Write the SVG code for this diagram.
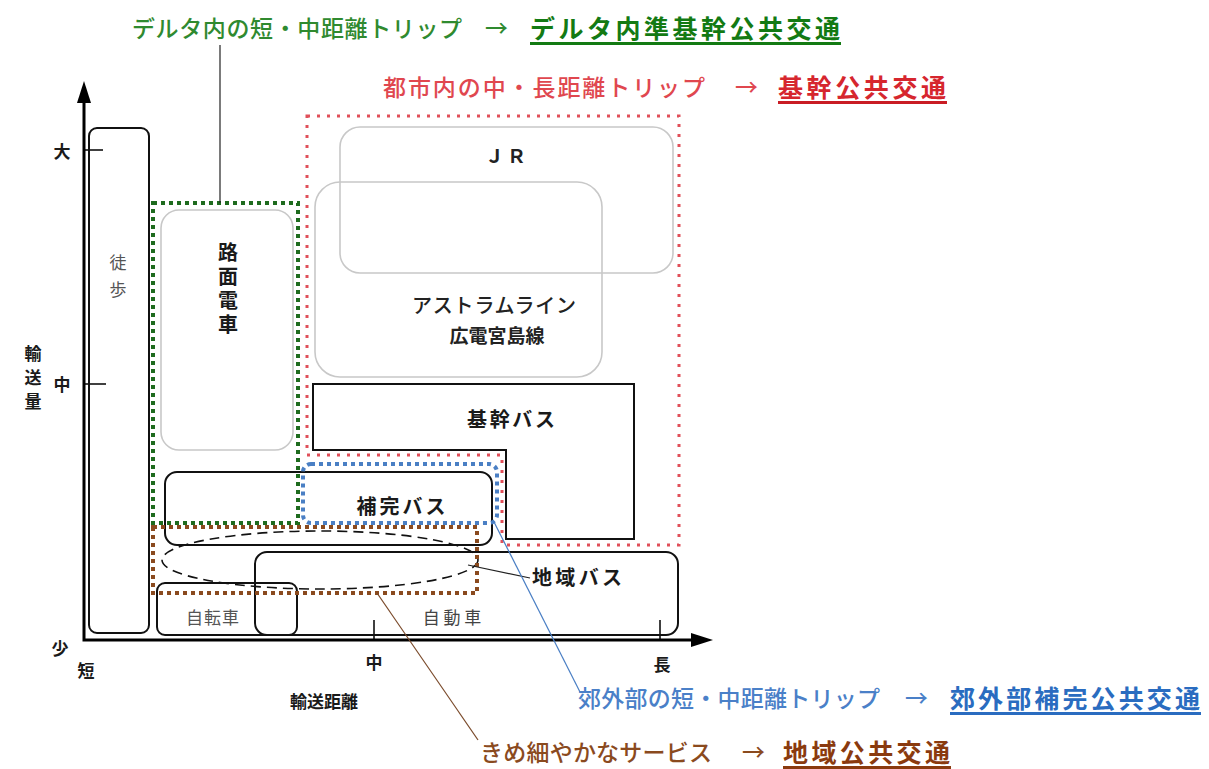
<svg xmlns="http://www.w3.org/2000/svg" width="1209" height="769" viewBox="0 0 1209 769">
<defs>
<style>
text{font-family:"Noto Sans CJK JP","Noto Sans",sans-serif;}
.lbl{font-size:20px;font-weight:700;fill:#1a1a1a;}
.ax{font-size:17px;font-weight:700;fill:#1a1a1a;}
.gbox{fill:none;stroke:#c8c8c8;stroke-width:1.6;}
.bbox{fill:none;stroke:#111;stroke-width:2;}
.axis{stroke:#000;stroke-width:3;fill:none;}
.tick{stroke:#000;stroke-width:1.5;}
.lead{stroke-width:1.2;fill:none;}
.dg{fill:none;stroke:#1e6b1e;stroke-width:4;stroke-dasharray:4 4;}
.dr{fill:none;stroke:#e0505a;stroke-width:3;stroke-dasharray:3 7;}
.db{fill:none;stroke:#4a7fc4;stroke-width:4;stroke-dasharray:4 4;}
.dn{fill:none;stroke:#8a4a1e;stroke-width:4;stroke-dasharray:4 4;}
.reg{font-size:23px;font-weight:500;}
.bld{font-size:25px;font-weight:700;}
.vt{writing-mode:vertical-rl;}
</style>
</defs>
<rect width="1209" height="769" fill="#fff"/>

<!-- axes -->
<g id="axes">
<polyline class="axis" points="84,96 84,640 698,640"/>
<polygon points="84,81 77,103 91,103" fill="#000"/>
<polygon points="713,640 691,633 691,647" fill="#000"/>
<line class="tick" x1="84" y1="150" x2="103" y2="150"/>
<line class="tick" x1="84" y1="384" x2="106" y2="384"/>
<line class="tick" x1="374" y1="620" x2="374" y2="640"/>
<line class="tick" x1="660" y1="620" x2="660" y2="640"/>
<text class="ax" x="62" y="158" text-anchor="middle">大</text>
<text class="ax" x="62" y="391" text-anchor="middle">中</text>
<text class="ax" x="60" y="655" text-anchor="middle">少</text>
<text class="ax" x="86" y="677" text-anchor="middle">短</text>
<text class="ax" x="374" y="669" text-anchor="middle">中</text>
<text class="ax" x="662" y="671" text-anchor="middle">長</text>
<text class="ax vt" x="33" y="345" font-size="20" letter-spacing="7">輸送量</text>
<text class="ax" x="324" y="708" text-anchor="middle" font-size="20">輸送距離</text>
</g>

<!-- nodes -->
<g id="toho">
<rect class="bbox" x="89" y="128" width="60" height="505" rx="8"/>
<text class="vt" x="118" y="254" font-size="17" fill="#555" letter-spacing="10">徒歩</text>
</g>
<g id="romen">
<rect class="gbox" x="161" y="210" width="132" height="240" rx="18"/>
<text class="lbl vt" x="228" y="242" letter-spacing="4">路面電車</text>
</g>
<g id="jr">
<rect class="gbox" x="340" y="127" width="333" height="146" rx="20"/>
<text x="507" y="163" text-anchor="middle" font-size="19" font-weight="700" fill="#222" letter-spacing="3">ＪＲ</text>
</g>
<g id="astram">
<rect class="gbox" x="315" y="182" width="287" height="195" rx="25"/>
<text x="494" y="313" text-anchor="middle" font-size="20" font-weight="500" fill="#222" textLength="164" lengthAdjust="spacing">アストラムライン</text>
<text x="497" y="343" text-anchor="middle" font-size="19" font-weight="700" fill="#222">広電宮島線</text>
</g>
<g id="kikan-bus">
<polygon class="bbox" points="313,384 634,384 634,539 506,539 506,450 313,450"/>
<text class="lbl" x="511" y="427" text-anchor="middle" textLength="88" lengthAdjust="spacing">基幹バス</text>
</g>
<g id="hokan-bus">
<rect class="bbox" x="165" y="472" width="327" height="73" rx="12"/>
<text class="lbl" x="401" y="514" text-anchor="middle" textLength="89" lengthAdjust="spacing">補完バス</text>
</g>
<g id="jitensha">
<rect class="bbox" x="157" y="583" width="140" height="52" rx="8" stroke-width="1.6"/>
<text x="213" y="624" text-anchor="middle" font-size="17" fill="#555" letter-spacing="1">自転車</text>
</g>
<g id="jidosha">
<rect class="bbox" x="255" y="552" width="423" height="83" rx="12"/>
<text x="452" y="624" text-anchor="middle" font-size="17" fill="#444">自 動 車</text>
</g>
<g id="chiiki-bus">
<ellipse cx="320" cy="560" rx="158" ry="29" fill="none" stroke="#111" stroke-width="1.6" stroke-dasharray="10 6"/>
<text class="lbl" x="532" y="585" textLength="90" lengthAdjust="spacing">地域バス</text>
</g>

<!-- dotted groupings -->
<g id="groups">
<polygon class="dr" points="307,116 679,116 679,545 502,545 502,455 307,455"/>
<rect class="dg" x="153" y="203" width="145" height="320"/>
<rect class="db" x="303" y="464" width="194" height="59" rx="8"/>
<rect class="dn" x="153" y="527" width="324" height="66"/>
</g>

<!-- connectors -->
<g id="connectors">
<line class="lead" x1="220" y1="45" x2="220" y2="203" stroke="#222"/>
<line class="lead" x1="468" y1="565" x2="530" y2="578" stroke="#222"/>
<line class="lead" x1="493" y1="520" x2="580" y2="692" stroke="#4a7fc4"/>
<line class="lead" x1="377" y1="593" x2="478" y2="740" stroke="#7a4a2a"/>
</g>

<!-- legend labels -->
<g id="label-delta" fill="#2f8a2f">
<text class="reg" x="132" y="37" textLength="330" lengthAdjust="spacing">デルタ内の短・中距離トリップ</text>
<text class="reg" x="485" y="37">→</text>
<text class="bld" x="530" y="38" textLength="310" lengthAdjust="spacing" fill="#137a13">デルタ内準基幹公共交通</text>
<rect x="530" y="42" width="311" height="3" fill="#137a13"/>
</g>
<g id="label-toshi" fill="#e0474f">
<text class="reg" x="383" y="96" textLength="322" lengthAdjust="spacing">都市内の中・長距離トリップ</text>
<text class="reg" x="735" y="96">→</text>
<text class="bld" x="778" y="97" textLength="168" lengthAdjust="spacing" fill="#d6262e">基幹公共交通</text>
<rect x="778" y="101" width="169" height="3" fill="#c91c24"/>
</g>
<g id="label-kogai" fill="#4a80c8">
<text class="reg" x="578" y="707" textLength="302" lengthAdjust="spacing">郊外部の短・中距離トリップ</text>
<text class="reg" x="905" y="707">→</text>
<text class="bld" x="950" y="708" textLength="250" lengthAdjust="spacing" fill="#2a6cc0">郊外部補完公共交通</text>
<rect x="950" y="712" width="251" height="3" fill="#2a6cc0"/>
</g>
<g id="label-chiiki" fill="#8a4a1e">
<text class="reg" x="480" y="761" textLength="232" lengthAdjust="spacing">きめ細やかなサービス</text>
<text class="reg" x="742" y="761">→</text>
<text class="bld" x="783" y="762" textLength="167" lengthAdjust="spacing" fill="#8a3a0e">地域公共交通</text>
<rect x="783" y="766" width="168" height="3" fill="#8a3a0e"/>
</g>
</svg>
